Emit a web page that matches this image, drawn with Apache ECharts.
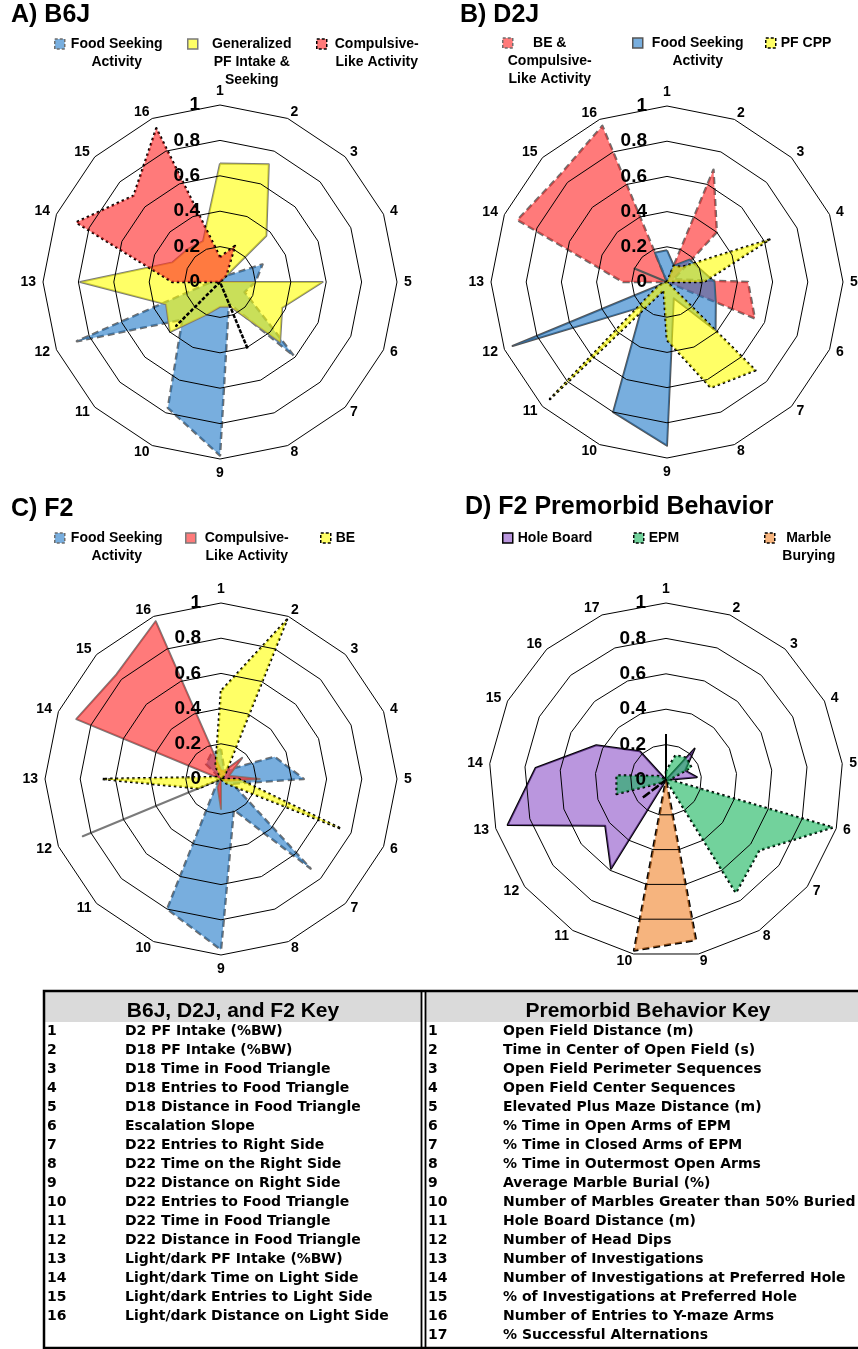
<!DOCTYPE html>
<html>
<head>
<meta charset="utf-8">
<script src="https://cdn.jsdelivr.net/npm/echarts@6.0.0/dist/echarts.min.js"></script>
<style>
  html, body { margin: 0; padding: 0; background: #fff; }
  #chart { width: 858px; height: 1349px; }
</style>
</head>
<body>
<div id="chart"></div>
<script>
// Axis numbers around each radar
const axes16 = ['1','2','3','4','5','6','7','8','9','10','11','12','13','14','15','16'];
const axes17 = ['1','2','3','4','5','6','7','8','9','10','11','12','13','14','15','16','17'];

// A) B6J  (values for axes 1..16)
const b6jFoodSeeking = [0, 0, 0.05, 0.26, 0.2, 0.15, 0.59, 0.13, 0.98, 0.77, 0.3, 0.875, 0.05, 0, 0, 0];
const b6jGeneralized = [0.67, 0.72, 0.37, 0, 0.58, 0.38, 0.48, 0.15, 0.14, 0.2, 0.4, 0.33, 0.79, 0.29, 0.26, 0.25];
const b6jCompulsive  = [0.14, 0.22, 0.05, 0, 0, 0, 0, 0.41, 0, 0, 0.35, 0, 0.27, 0.88, 0.69, 0.94];

// B) D2J
const d2jBeCompulsive = [0, 0.69, 0.4, 0.04, 0.46, 0.54, 0, 0, 0, 0, 0, 0, 0.25, 0.92, 0.86, 0.96];
const d2jFoodSeeking  = [0.18, 0.1, 0.18, 0.2, 0.27, 0.3, 0.39, 0.1, 0.93, 0.8, 0.2, 0.95, 0, 0.2, 0, 0.18];
const d2jPfCpp        = [0, 0.1, 0.12, 0.63, 0.21, 0, 0.71, 0.65, 0.33, 0.05, 0.94, 0.05, 0, 0, 0, 0];

// C) F2
const f2FoodSeeking = [0.17, 0.05, 0.08, 0.33, 0.47, 0.07, 0.72, 0.19, 0.97, 0.8, 0.03, 0, 0, 0, 0.12, 0.15];
const f2Compulsive  = [0.05, 0.05, 0.17, 0.05, 0.22, 0.03, 0, 0, 0.17, 0.05, 0, 0.85, 0, 0.89, 0.84, 0.97];
const f2Be          = [0.5, 0.98, 0.03, 0, 0.1, 0.74, 0.03, 0, 0, 0, 0, 0.14, 0.675, 0.03, 0, 0.08];

// D) F2 premorbid behavior (values for axes 1..17)
const premorbidHoleBoard = [0.26, 0, 0.24, 0.12, 0.175, 0, 0, 0, 0, 0, 0.59, 0.43, 0.93, 0.74, 0.44, 0.22, 0];
const premorbidEpm       = [0.05, 0.15, 0.17, 0.16, 0.02, 0.98, 0.66, 0.75, 0, 0, 0, 0.02, 0.29, 0.28, 0.05, 0, 0];
const premorbidMarble    = [0, 0, 0, 0, 0, 0, 0, 0, 0.92, 0.98, 0, 0.17, 0, 0, 0, 0, 0];

// Key table text
const strainKey = [
  'D2 PF Intake (%BW)', 'D18 PF Intake (%BW)', 'D18 Time in Food Triangle', 'D18 Entries to Food Triangle',
  'D18 Distance in Food Triangle', 'Escalation Slope', 'D22 Entries to Right Side', 'D22 Time on the Right Side',
  'D22 Distance on Right Side', 'D22 Entries to Food Triangle', 'D22 Time in Food Triangle',
  'D22 Distance in Food Triangle', 'Light/dark PF Intake (%BW)', 'Light/dark Time on Light Side',
  'Light/dark Entries to Light Side', 'Light/dark Distance on Light Side'
];
const premorbidKey = [
  'Open Field Distance (m)', 'Time in Center of Open Field (s)', 'Open Field Perimeter Sequences',
  'Open Field Center Sequences', 'Elevated Plus Maze Distance (m)', '% Time in Open Arms of EPM',
  '% Time in Closed Arms of EPM', '% Time in Outermost Open Arms', 'Average Marble Burial (%)',
  'Number of Marbles Greater than 50% Buried', 'Hole Board Distance (m)', 'Number of Head Dips',
  'Number of Investigations', 'Number of Investigations at Preferred Hole', '% of Investigations at Preferred Hole',
  'Number of Entries to Y-maze Arms', '% Successful Alternations'
];

const FONT = "'Liberation Sans', Arial, Helvetica, sans-serif";
const KEYFONT = "'DejaVu Sans', 'Liberation Sans', sans-serif";

const FILL = {
  blue:   'rgba(30,120,200,0.6)',
  yellow: 'rgba(255,255,0,0.6)',
  red:    'rgba(255,40,40,0.62)',
  purple: 'rgba(140,80,200,0.6)',
  green:  'rgba(20,180,90,0.6)',
  orange: 'rgba(240,130,40,0.6)'
};
const EDGE = {
  dashedGray:  { color: '#6e6e6e', width: 2.5, type: [7, 4] },
  solidGray:   { color: '#7a7a7a', width: 2, type: 'solid' },
  solidDark:   { color: '#555555', width: 2, type: 'solid' },
  dottedBlack: { color: '#000000', width: 2.5, type: [2.5, 3] },
  solidBlack:  { color: '#000000', width: 2, type: 'solid' },
  dashedBlack: { color: '#000000', width: 2.5, type: [7, 4] }
};

// ECharts lays radar indicators out counter-clockwise; reorder so numbering runs clockwise from the top.
function clockwise(arr) { return [arr[0]].concat(arr.slice(1).reverse()); }

function makeRadar(center, radius, names) {
  return {
    center: center, radius: radius, startAngle: 90, shape: 'polygon', splitNumber: 5, z: 10,
    indicator: clockwise(names).map(function (n, i) {
      const ind = { name: n, min: 0, max: 1 };
      if (i === 0) {
        ind.axisLabel = { show: true, fontSize: 19, fontWeight: 'bold', color: '#000', fontFamily: FONT, margin: 20 };
      }
      return ind;
    }),
    axisName: { color: '#000', fontSize: 14, fontWeight: 'bold', fontFamily: FONT },
    nameGap: 7,
    axisLine: { show: false },
    axisTick: { show: false },
    axisLabel: { show: false },
    splitArea: { show: false },
    splitLine: { lineStyle: { color: '#000', width: 1 } }
  };
}

function makeArea(radarIndex, name, values, fill, edge) {
  return {
    type: 'radar', radarIndex: radarIndex, name: name, symbol: 'none', silent: true,
    itemStyle: { color: fill },
    lineStyle: { color: edge.color, width: edge.width, type: edge.type },
    areaStyle: { color: fill, opacity: 1 },
    data: [{ name: name, value: clockwise(values) }]
  };
}

function makeLegend(name, lines, iconX, y1, textW, align, fill, edge) {
  const L = 18, n = lines.length;
  return {
    left: iconX, top: y1 - (2 * n - 1) * L / 2, padding: 0,
    itemWidth: 10, itemHeight: 10, selectedMode: false,
    data: [{ name: name, icon: 'rect',
      itemStyle: { color: fill, borderColor: edge.color, borderWidth: 1.5, borderType: edge.type === 'solid' ? 'solid' : [3, 2] } }],
    formatter: function () { return lines.map(function (s) { return '{c|' + s + '}'; }).join('\n'); },
    textStyle: {
      lineHeight: L, padding: [(n - 1) * L, 0, 0, 0],
      rich: { c: { width: textW, align: align, fontSize: 14, fontWeight: 'bold', lineHeight: L, color: '#000', fontFamily: FONT } }
    }
  };
}

function panelTitle(text, left, top) {
  return { text: text, left: left, top: top, padding: 0,
    textStyle: { fontSize: 25, fontWeight: 'bold', color: '#000', fontFamily: FONT } };
}

// Key table drawn with graphic elements
function keyTable() {
  const top = 991, bottom = 1348, left = 44, div1 = 421.5, div2 = 425.5;
  const rowY0 = 1031.5, rowStep = 19;
  const rowFont = 'bold 14px ' + KEYFONT;
  const els = [
    { type: 'rect', shape: { x: left, y: top, width: div1 - left, height: 31 }, style: { fill: '#dadada' } },
    { type: 'rect', shape: { x: div2, y: top, width: 900 - div2, height: 31 }, style: { fill: '#dadada' } },
    { type: 'rect', shape: { x: left, y: top, width: 870 - left, height: bottom - top }, style: { fill: 'none', stroke: '#000', lineWidth: 2.5 } },
    { type: 'line', shape: { x1: div1, y1: top, x2: div1, y2: bottom }, style: { stroke: '#000', lineWidth: 1.8 } },
    { type: 'line', shape: { x1: div2, y1: top, x2: div2, y2: bottom }, style: { stroke: '#000', lineWidth: 1.8 } },
    { type: 'text', x: 233, y: 1011, style: { text: 'B6J, D2J, and F2 Key', fill: '#000', font: 'bold 21px ' + FONT, textAlign: 'center', textVerticalAlign: 'middle' } },
    { type: 'text', x: 648, y: 1011, style: { text: 'Premorbid Behavior Key', fill: '#000', font: 'bold 21px ' + FONT, textAlign: 'center', textVerticalAlign: 'middle' } }
  ];
  strainKey.forEach(function (t, i) {
    const y = rowY0 + i * rowStep;
    els.push({ type: 'text', x: 47, y: y, style: { text: String(i + 1), fill: '#000', font: rowFont, textVerticalAlign: 'middle' } });
    els.push({ type: 'text', x: 125, y: y, style: { text: t, fill: '#000', font: rowFont, textVerticalAlign: 'middle' } });
  });
  premorbidKey.forEach(function (t, i) {
    const y = rowY0 + i * rowStep;
    els.push({ type: 'text', x: 428, y: y, style: { text: String(i + 1), fill: '#000', font: rowFont, textVerticalAlign: 'middle' } });
    els.push({ type: 'text', x: 503, y: y, style: { text: t, fill: '#000', font: rowFont, textVerticalAlign: 'middle' } });
  });
  return els;
}

const chart = echarts.init(document.getElementById('chart'), null, { renderer: 'canvas' });

chart.setOption({
  backgroundColor: '#fff',
  animation: false,
  title: [
    panelTitle('A) B6J', 11, 3),
    panelTitle('B) D2J', 460, 3),
    panelTitle('C) F2', 11, 497),
    panelTitle('D) F2 Premorbid Behavior', 465, 495)
  ],
  legend: [
    makeLegend('Food Seeking Activity', ['Food Seeking', 'Activity'], 54, 44, 94, 'center', FILL.blue, EDGE.dashedGray),
    makeLegend('Generalized PF Intake & Seeking', ['Generalized', 'PF Intake &', 'Seeking'], 187, 44, 98, 'center', FILL.yellow, EDGE.solidGray),
    makeLegend('Compulsive-Like Activity', ['Compulsive-', 'Like Activity'], 316, 44, 90, 'center', FILL.red, EDGE.dottedBlack),

    makeLegend('BE & Compulsive-Like Activity', ['BE &', 'Compulsive-', 'Like Activity'], 502, 43, 64, 'center', FILL.red, EDGE.dashedGray),
    makeLegend('Food Seeking Activity', ['Food Seeking', 'Activity'], 632, 43, 100, 'center', FILL.blue, EDGE.solidDark),
    makeLegend('PF CPP', ['PF CPP'], 765, 43, 60, 'left', FILL.yellow, EDGE.dottedBlack),

    makeLegend('Food Seeking Activity', ['Food Seeking', 'Activity'], 54, 538, 94, 'center', FILL.blue, EDGE.dashedGray),
    makeLegend('Compulsive-Like Activity', ['Compulsive-', 'Like Activity'], 185, 538, 92, 'center', FILL.red, EDGE.solidGray),
    makeLegend('BE', ['BE'], 320, 538, 30, 'left', FILL.yellow, EDGE.dottedBlack),

    makeLegend('Hole Board', ['Hole Board'], 502, 538, 80, 'left', FILL.purple, EDGE.solidBlack),
    makeLegend('EPM', ['EPM'], 633, 538, 40, 'left', FILL.green, EDGE.dottedBlack),
    makeLegend('Marble Burying', ['Marble', 'Burying'], 764, 538, 58, 'center', FILL.orange, EDGE.dashedBlack)
  ],
  radar: [
    makeRadar([220, 282], 177, axes16),
    makeRadar([667, 282], 176, axes16),
    makeRadar([221, 779], 176, axes16),
    makeRadar([666, 780], 177, axes17)
  ],
  series: [
    makeArea(0, 'Food Seeking Activity', b6jFoodSeeking, FILL.blue, EDGE.dashedGray),
    makeArea(0, 'Generalized PF Intake & Seeking', b6jGeneralized, FILL.yellow, EDGE.solidGray),
    makeArea(0, 'Compulsive-Like Activity', b6jCompulsive, FILL.red, EDGE.dottedBlack),

    makeArea(1, 'BE & Compulsive-Like Activity', d2jBeCompulsive, FILL.red, EDGE.dashedGray),
    makeArea(1, 'Food Seeking Activity', d2jFoodSeeking, FILL.blue, EDGE.solidDark),
    makeArea(1, 'PF CPP', d2jPfCpp, FILL.yellow, EDGE.dottedBlack),

    makeArea(2, 'Food Seeking Activity', f2FoodSeeking, FILL.blue, EDGE.dashedGray),
    makeArea(2, 'Compulsive-Like Activity', f2Compulsive, FILL.red, EDGE.solidGray),
    makeArea(2, 'BE', f2Be, FILL.yellow, EDGE.dottedBlack),

    makeArea(3, 'Hole Board', premorbidHoleBoard, FILL.purple, EDGE.solidBlack),
    makeArea(3, 'EPM', premorbidEpm, FILL.green, EDGE.dottedBlack),
    makeArea(3, 'Marble Burying', premorbidMarble, FILL.orange, EDGE.dashedBlack)
  ],
  graphic: keyTable()
});
</script>
</body>
</html>
